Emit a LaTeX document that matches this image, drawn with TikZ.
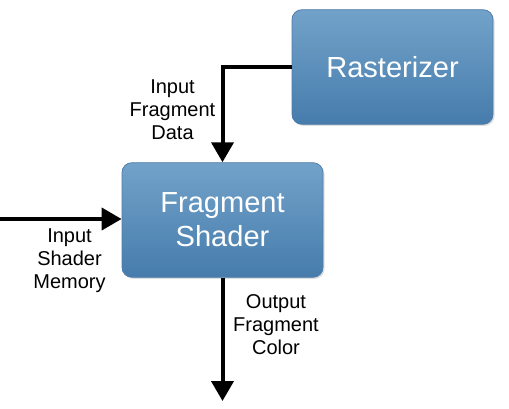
\documentclass[tikz,border=0pt]{standalone}
\usepackage{fontspec}
\setmainfont{Liberation Sans}
\usetikzlibrary{arrows.meta,shadows}
\definecolor{boxtop}{RGB}{114,162,201}
\definecolor{boxbot}{RGB}{70,124,172}
\definecolor{boxline}{RGB}{80,125,170}
\tikzset{
  blockbox/.style={draw=boxline, line width=0.6pt, rounded corners=7.5pt,
    top color=boxtop, bottom color=boxbot, minimum width=150.75pt, minimum height=86pt,
    align=center, text=white, font=\fontsize{21.8}{25.5}\selectfont,
    drop shadow={shadow xshift=1.2pt, shadow yshift=-1.2pt, opacity=0.25}},
  flow/.style={line width=3pt, -{Triangle[length=15pt,width=16.5pt]}},
  lbl/.style={align=center, font=\fontsize{15}{17.3}\selectfont, text=black}
}
\begin{document}
\begin{tikzpicture}[x=0.75pt,y=-0.75pt]
\useasboundingbox (0,0) rectangle (509,409);
\node[blockbox] (rast) at (392.5,67) {Rasterizer};
\node[blockbox] (frag) at (222.5,220) {Fragment\\Shader};
\coordinate (bend) at (222.5,67);
\coordinate (leftin) at (0,219);
\coordinate (outend) at (222.5,401);
\draw[flow] (rast.west) -- (bend) -- (frag.north);
\draw[flow] (leftin) -- (frag.west |- leftin);
\draw[flow] (frag.south) -- (outend);
\node[lbl] (l1) at (172.5,110) {Input\\Fragment\\Data};
\node[lbl] (l2) at (69.5,261) {Input\\Shader\\Memory};
\node[lbl] (l3) at (276,325) {Output\\Fragment\\Color};
\end{tikzpicture}
\end{document}
